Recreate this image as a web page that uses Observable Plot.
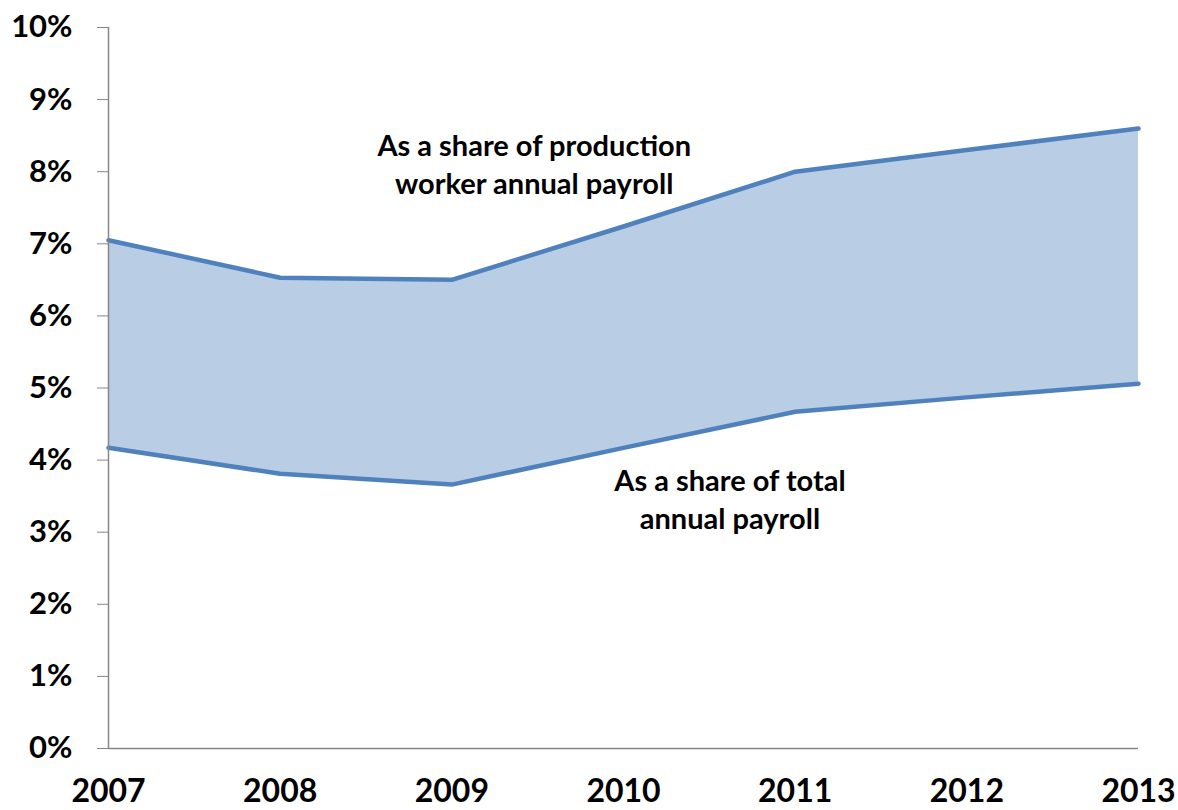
<!DOCTYPE html>
<html>
<head>
<meta charset="utf-8">
<script src="https://cdn.jsdelivr.net/npm/d3@7"></script>
<script src="https://cdn.jsdelivr.net/npm/@observablehq/plot@0.6"></script>
<style>
  html, body { margin: 0; padding: 0; background: #fff; }
  #chart svg { display: block; font-family: Lato, "Open Sans", sans-serif; }
</style>
</head>
<body>
<div id="chart"></div>
<script>
const years = [2007, 2008, 2009, 2010, 2011, 2012, 2013];
const productionShare = [7.05, 6.53, 6.50, 7.24, 8.00, 8.30, 8.60];
const totalShare = [4.17, 3.81, 3.66, 4.17, 4.67, 4.87, 5.06];
const yTicks = [0, 1, 2, 3, 4, 5, 6, 7, 8, 9, 10];
const labelTexts = ["As a share of production\nworker annual payroll", "As a share of total\nannual payroll"];
const labelYears = [2009.48, 2010.62];
const labelValues = [8.12, 3.47];

const rows = years.map((y, i) => ({year: y, prod: productionShare[i], total: totalShare[i]}));
const labels = labelTexts.map((t, i) => ({text: t, x: labelYears[i], y: labelValues[i]}));

const gray = "#868686";
const lineColor = "#4F81BD";

const chart = Plot.plot({
  width: 1178,
  height: 810,
  marginLeft: 108,
  marginRight: 40,
  marginTop: 27,
  marginBottom: 62,
  x: {domain: [2007, 2013]},
  y: {domain: [0, 10]},
  marks: [
    Plot.areaY(rows, {x: "year", y1: "total", y2: "prod", fill: "#B9CDE5"}),
    Plot.line(rows, {x: "year", y: "prod", stroke: lineColor, strokeWidth: 4.5}),
    Plot.line(rows, {x: "year", y: "total", stroke: lineColor, strokeWidth: 4.5}),
    Plot.ruleX([2007], {y1: 0, y2: 10, stroke: gray, strokeWidth: 1.5}),
    Plot.ruleY([0], {x1: 2007, x2: 2013, stroke: gray, strokeWidth: 1.5}),
    Plot.axisY({
      ticks: yTicks, tickFormat: d => d + "%", tickSize: 11, tickPadding: 25,
      stroke: gray, fill: "black", fontSize: 31, fontWeight: "bold", label: null
    }),
    Plot.axisX({
      ticks: years, tickFormat: d => String(d), tickSize: 0, tickPadding: 31,
      fill: "black", fontSize: 32, fontWeight: "bold", label: null
    }),
    Plot.text(labels, {
      x: "x", y: "y", text: "text", fontSize: 29, fontWeight: "bold", fill: "black",
      lineHeight: 1.31, textAnchor: "middle"
    })
  ]
});
document.getElementById("chart").appendChild(chart);
</script>
</body>
</html>
